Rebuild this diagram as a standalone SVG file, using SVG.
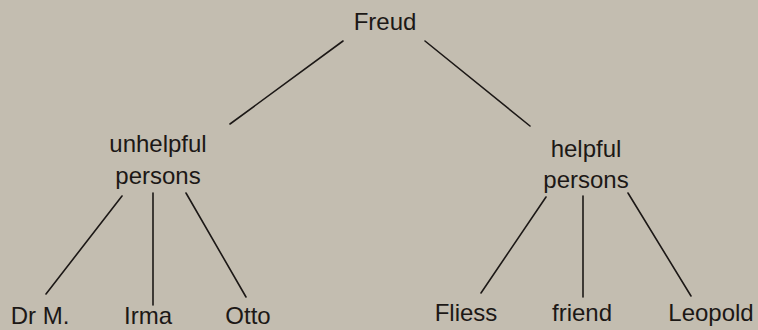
<svg xmlns="http://www.w3.org/2000/svg" width="758" height="330" viewBox="0 0 758 330">
<style>
text{font-family:"Liberation Sans",Arial,sans-serif;font-size:24px;fill:#1c1816;text-anchor:middle}
.c line{stroke:#1c1816;stroke-width:1.6;stroke-linecap:round}
</style>
<rect width="758" height="330" fill="#c3bdb0"/>
<g class="c" id="connectors">
<line x1="343" y1="41" x2="230" y2="124"/>
<line x1="425" y1="41" x2="530" y2="126"/>
<line x1="122" y1="196" x2="46" y2="294"/>
<line x1="153" y1="193" x2="153" y2="305"/>
<line x1="186" y1="193" x2="246" y2="297"/>
<line x1="546" y1="197" x2="481" y2="293"/>
<line x1="583" y1="196" x2="583" y2="297"/>
<line x1="628" y1="193" x2="691" y2="296"/>
</g>
<g id="freud"><text x="385" y="30">Freud</text></g>
<g id="unhelpful"><text x="158" y="152">unhelpful</text><text x="158" y="184">persons</text></g>
<g id="helpful"><text x="586" y="157">helpful</text><text x="586" y="188">persons</text></g>
<g id="drm"><text x="40" y="324">Dr M.</text></g>
<g id="irma"><text x="148" y="324">Irma</text></g>
<g id="otto"><text x="248" y="324">Otto</text></g>
<g id="fliess"><text x="466" y="321">Fliess</text></g>
<g id="friend"><text x="582" y="321">friend</text></g>
<g id="leopold"><text x="711" y="321">Leopold</text></g>
</svg>
